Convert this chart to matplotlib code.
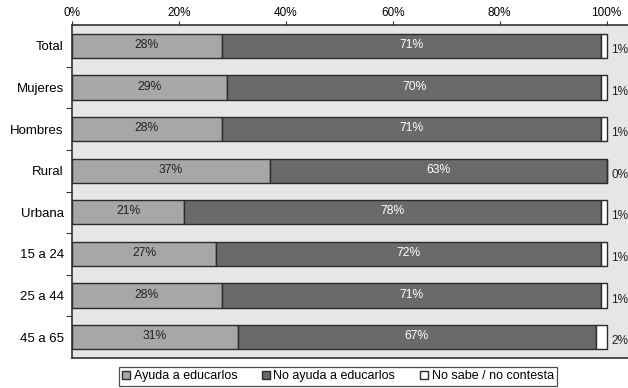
import matplotlib.pyplot as plt
import numpy as np

# data
categories = ['Total', 'Mujeres', 'Hombres', 'Rural', 'Urbana', '15 a 24', '25 a 44', '45 a 65']
ayuda = [28, 29, 28, 37, 21, 27, 28, 31]
no_ayuda = [71, 70, 71, 63, 78, 72, 71, 67]
no_sabe = [1, 1, 1, 0, 1, 1, 1, 2]
series_names = ['Ayuda a educarlos', 'No ayuda a educarlos', 'No sabe / no contesta']
x_ticks = [0, 20, 40, 60, 80, 100]

colors = ['#a7a7a9', '#6a6a6d', '#ffffff']

plt.rcParams['font.family'] = ['Liberation Sans', 'DejaVu Sans']

fig = plt.figure(figsize=(6.28, 3.88), dpi=100)
ax = fig.add_axes([72 / 628, 1 - 358 / 388, 1 - 72 / 628, 333 / 388])
ax.set_facecolor('#e6e6e8')

y = np.arange(len(categories))
left = np.zeros(len(categories))
for vals, col, name in zip([ayuda, no_ayuda, no_sabe], colors, series_names):
    ax.barh(y, vals, left=left, height=0.58, color=col, edgecolor='#2b2b2b',
            linewidth=1.0, label=name)
    left = left + np.array(vals)

# value labels
for i in range(len(categories)):
    ax.text(ayuda[i] / 2, y[i] - 0.02, f'{ayuda[i]}%', ha='center', va='center',
            fontsize=8.7, color='#222222')
    ax.text(ayuda[i] + no_ayuda[i] / 2, y[i] - 0.02, f'{no_ayuda[i]}%', ha='center',
            va='center', fontsize=8.7, color='white')
    ax.text(100.9, y[i] + 0.1, f'{no_sabe[i]}%', ha='left', va='center',
            fontsize=8.5, color='#222222')

ax.set_xlim(0, 104)
ax.set_ylim(len(categories) - 0.5, -0.5)

ax.xaxis.tick_top()
ax.set_xticks(x_ticks)
ax.set_xticklabels([f'{t}%' for t in x_ticks], fontsize=8.5)
ax.tick_params(axis='x', length=3, width=0.8, pad=1, color='#333333')

ax.set_yticks(y)
ax.set_yticklabels(categories, fontsize=9.5)
ax.tick_params(axis='y', which='major', length=0, pad=6)
ax.set_yticks(np.arange(0.5, len(categories) - 0.5, 1), minor=True)
ax.tick_params(axis='y', which='minor', length=4, width=0.8, color='#333333')

for s in ['top', 'bottom', 'left']:
    ax.spines[s].set_color('#333333')
    ax.spines[s].set_linewidth(1.2)
ax.spines['right'].set_visible(False)

leg = fig.legend(loc='lower center', bbox_to_anchor=(338 / 628, 0.0), ncol=3,
                 fontsize=9, frameon=True, fancybox=False, edgecolor='#222222',
                 handlelength=0.6, handleheight=0.6, handletextpad=0.3,
                 columnspacing=2.0, borderpad=0.25, borderaxespad=0.2)
leg.get_frame().set_linewidth(0.9)

plt.savefig('out.png', dpi=100)
